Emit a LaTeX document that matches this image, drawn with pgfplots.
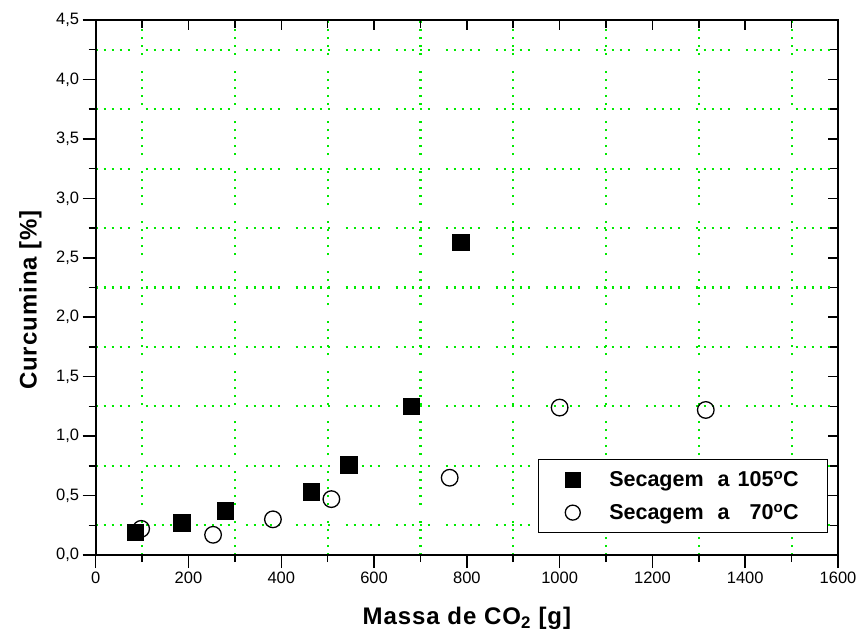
\documentclass[border=0pt]{standalone}
\usepackage{fontspec}
\setmainfont{Liberation Sans}
\newfontfamily\labfont[LetterSpace=4]{Liberation Sans}
\usepackage{pgfplots}
\pgfplotsset{compat=1.18}
\definecolor{gridgreen}{RGB}{0,235,0}

\pgfplotsset{
  frame/.style={
    width=742.3pt, height=535pt, scale only axis,
    xmin=0, xmax=1600, ymin=0, ymax=4.5,
    xtick={0,200,...,1600}, ytick={0,0.5,...,4.5},
    minor x tick num=1, minor y tick num=1,
    axis line style={line width=1.8pt},
    tick style={black, line width=1.5pt},
  },
}

\begin{document}
\begin{tikzpicture}
\useasboundingbox (-95.7pt,-86pt) rectangle (763.3pt,555pt);
\begin{axis}[
  frame,
  tick pos=left, tick align=outside,
  major tick length=13pt, minor tick length=7pt,
  grid=minor,
  minor grid style={gridgreen, line width=2.2pt,
    dash pattern=on 2pt off 6pt on 2pt off 6pt on 2pt off 6pt on 2pt off 6pt on 2pt off 16pt},
  /pgf/number format/assume math mode=true,
  ticklabel style={font=\fontsize{16.5}{17}\selectfont},
  xticklabel style={/pgf/number format/1000 sep={}},
  yticklabel style={/pgf/number format/.cd, fixed, fixed zerofill, precision=1, use comma},
  xlabel={\bfseries Massa de CO\textsubscript{2} [g]},
  ylabel={\bfseries Curcumina [\%]},
  label style={font=\labfont\fontsize{24}{28}\selectfont},
  xlabel style={at={(axis description cs:0.5,-0.1308)}, anchor=base},
  ylabel style={at={(axis description cs:-0.0795,0.4766)}, anchor=base},
  legend style={at={(axis description cs:0.987,0.0406)}, anchor=south east,
    draw=black, line width=1.2pt,
    font=\bfseries\fontsize{21.5}{24}\selectfont,
    row sep=12pt, column sep=27pt, inner xsep=27pt, inner ysep=9.5pt},
  legend cell align=left,
  legend image post style={mark size=7.5pt},
]
\addplot[only marks, mark=square*, mark size=8.3pt, black, mark options={line width=0.6pt}]
  coordinates {(85,0.19) (185,0.27) (279,0.37) (465,0.53) (546,0.76) (680,1.25) (787,2.63)};
\addplot[only marks, mark=o, mark size=8.3pt, black, mark options={fill=white, line width=1.3pt}]
  coordinates {(98,0.22) (253,0.17) (382,0.30) (508,0.47) (763,0.65) (1000,1.24) (1315,1.22)};
\legend{Secagem\hspace{14pt}a\hspace{8pt}105\textsuperscript{o}C,
  Secagem\hspace{14pt}a\hspace{8pt}\phantom{1}70\textsuperscript{o}C}
\end{axis}
\begin{axis}[
  frame,
  tick pos=right, tick align=inside,
  major tick length=10pt, minor tick length=8pt,
  xticklabels={}, yticklabels={},
]
\end{axis}
\end{tikzpicture}
\end{document}
